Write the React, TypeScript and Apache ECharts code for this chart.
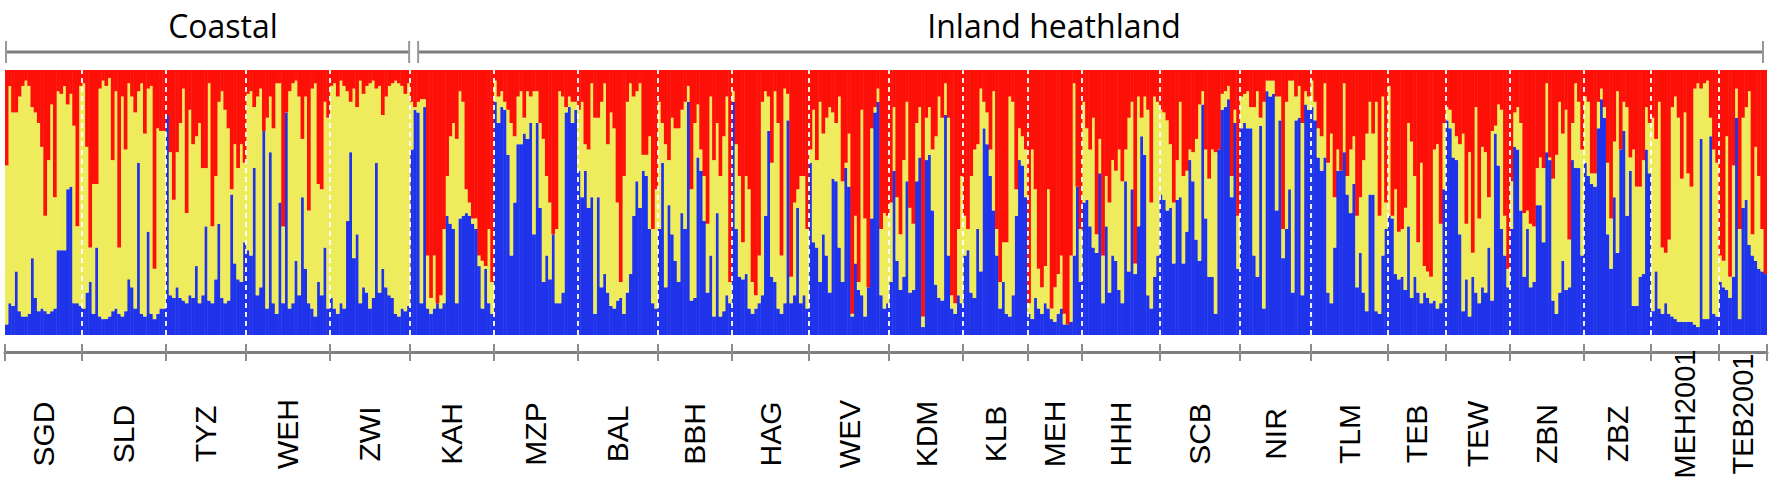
import React, { useEffect, useRef } from 'react';
import * as echarts from 'echarts';

// Population labels (left to right)
const POP_NAMES = ['SGD', 'SLD', 'TYZ', 'WEH', 'ZWI', 'KAH', 'MZP', 'BAL', 'BBH', 'HAG', 'WEV', 'KDM', 'KLB', 'MEH', 'HHH', 'SCB', 'NIR', 'TLM', 'TEB', 'TEW', 'ZBN', 'ZBZ', 'MEH2001', 'TEB2001'];
const GROUPS = [
  { name: 'Coastal', from: 0, to: 5 },
  { name: 'Inland heathland', from: 5, to: 24 },
];

// Per individual: blue share (%) and upper edge of yellow (blue + yellow, %); red fills the rest
const blueSGD = [4, 12, 11, 24, 9, 7, 7, 8, 29, 14, 9, 10, 9, 8, 9, 10, 32, 32, 32, 55, 56, 12, 12, 11];
const topSGD = [64, 94, 84, 84, 90, 94, 96, 94, 86, 84, 80, 71, 45, 66, 87, 52, 92, 91, 94, 87, 91, 79, 41, 94];
const blueSLD = [10, 16, 20, 8, 33, 7, 6, 6, 7, 9, 10, 8, 7, 9, 21, 18, 10, 65, 8, 7, 39, 8, 6, 8, 10, 10];
const topSLD = [95, 71, 33, 57, 57, 93, 96, 94, 97, 66, 92, 33, 90, 70, 95, 90, 84, 92, 95, 76, 93, 94, 25, 78, 77, 77];
const blueTYZ = [83, 15, 14, 18, 14, 13, 12, 15, 14, 26, 12, 15, 41, 13, 12, 21, 42, 14, 12, 13, 53, 27, 21, 20, 35];
const topTYZ = [83, 69, 51, 69, 80, 93, 46, 85, 72, 75, 80, 63, 63, 95, 41, 60, 88, 92, 85, 78, 55, 72, 63, 72, 65];
const blueWEH = [32, 30, 63, 15, 18, 77, 10, 69, 12, 8, 50, 12, 84, 10, 12, 28, 15, 52, 25, 12, 10, 7, 20, 15, 33, 10];
const topWEH = [91, 92, 86, 90, 93, 77, 82, 90, 78, 95, 95, 41, 84, 92, 95, 96, 90, 74, 90, 47, 93, 95, 57, 55, 88, 82];
const blueZWI = [14, 10, 8, 12, 10, 43, 69, 29, 38, 12, 18, 16, 10, 14, 65, 16, 25, 18, 15, 14, 8, 7, 10, 9, 11];
const topZWI = [94, 95, 90, 96, 94, 92, 88, 93, 86, 96, 91, 94, 95, 96, 93, 94, 83, 90, 94, 95, 96, 95, 94, 91, 95];
const blueKAH = [70, 85, 84, 12, 86, 10, 8, 10, 12, 10, 12, 45, 42, 40, 12, 44, 45, 46, 45, 42, 40, 26, 10, 25, 12, 8];
const topKAH = [88, 86, 88, 89, 89, 30, 14, 30, 12, 15, 40, 60, 75, 80, 74, 92, 88, 55, 50, 44, 44, 30, 28, 26, 40, 20];
const blueMZP = [88, 80, 86, 85, 68, 30, 50, 72, 72, 76, 74, 80, 38, 80, 48, 20, 30, 21, 38, 12, 12, 16, 84, 86, 80, 85];
const topMZP = [96, 90, 92, 88, 85, 80, 75, 90, 92, 82, 92, 90, 92, 92, 80, 74, 60, 50, 28, 40, 92, 90, 86, 90, 88, 88];
const blueBAL = [62, 52, 62, 48, 52, 8, 52, 18, 23, 16, 11, 10, 13, 14, 8, 16, 23, 45, 58, 48, 62, 60, 40, 12, 10];
const topBAL = [85, 88, 72, 70, 95, 82, 82, 88, 95, 72, 84, 78, 50, 20, 60, 88, 95, 90, 92, 95, 68, 68, 75, 40, 55];
const blueBBH = [40, 65, 18, 49, 38, 28, 20, 46, 40, 88, 13, 14, 67, 62, 43, 16, 30, 7, 46, 7, 9, 15, 12];
const topBBH = [88, 80, 72, 66, 82, 78, 78, 85, 88, 94, 55, 80, 87, 70, 60, 42, 90, 66, 80, 60, 75, 90, 20];
const blueHAG = [88, 40, 22, 21, 23, 10, 8, 10, 12, 15, 45, 77, 22, 20, 10, 8, 12, 81, 12, 15, 48, 12, 15, 10];
const topHAG = [92, 72, 60, 35, 60, 55, 20, 15, 30, 88, 92, 90, 65, 92, 80, 30, 93, 91, 22, 50, 55, 60, 60, 40];
const blueWEV = [65, 35, 33, 20, 38, 30, 16, 59, 58, 33, 20, 63, 56, 7, 27, 17, 15, 7, 18, 44, 84, 88, 15, 10, 12];
const topWEV = [70, 85, 66, 88, 76, 82, 86, 84, 80, 90, 58, 65, 76, 8, 45, 20, 85, 44, 18, 78, 86, 93, 40, 46, 45];
const blueKDM = [20, 62, 28, 17, 22, 58, 16, 17, 58, 67, 3, 66, 68, 47, 19, 14, 13, 83, 30, 10, 8, 15, 12];
const topKDM = [50, 86, 52, 38, 66, 88, 48, 42, 80, 86, 7, 82, 86, 70, 75, 90, 82, 95, 82, 15, 12, 40, 60];
const blueKLB = [30, 32, 16, 14, 40, 24, 78, 72, 60, 47, 30, 10, 20, 8, 7, 15, 45, 66, 64, 52];
const topKLB = [45, 40, 60, 70, 72, 93, 88, 84, 70, 92, 40, 20, 35, 35, 90, 88, 55, 78, 75, 70];
const blueMEH = [8, 6, 14, 10, 8, 12, 10, 6, 5, 8, 10, 4, 4, 5, 30, 56, 20];
const topMEH = [12, 70, 55, 25, 18, 26, 55, 10, 18, 23, 30, 8, 4, 30, 95, 56, 40];
const blueHHH = [50, 51, 41, 33, 31, 61, 12, 41, 16, 30, 28, 17, 12, 58, 24, 55, 23, 41, 75, 68, 15, 10, 22, 30];
const topHHH = [88, 78, 70, 82, 38, 74, 30, 60, 50, 66, 62, 70, 58, 70, 82, 88, 27, 90, 82, 90, 85, 50, 90, 88];
const blueSCB = [53, 51, 47, 48, 27, 51, 52, 27, 39, 66, 58, 36, 28, 87, 44, 22, 22, 8, 70, 85, 86, 89, 52, 80, 25];
const topSCB = [85, 84, 81, 72, 50, 66, 88, 60, 62, 70, 69, 74, 87, 92, 70, 59, 70, 69, 68, 91, 92, 94, 60, 85, 45];
const blueNIR = [78, 80, 78, 78, 30, 22, 79, 10, 92, 90, 91, 47, 81, 29, 40, 55, 16, 81, 82, 15, 87, 85];
const topNIR = [90, 91, 92, 86, 86, 92, 82, 88, 96, 96, 96, 90, 90, 40, 88, 96, 96, 90, 94, 80, 92, 90];
const blueTLM = [86, 81, 67, 62, 67, 16, 12, 33, 62, 62, 69, 53, 46, 57, 18, 31, 16, 9, 53, 53, 9, 8, 30, 40];
const topTLM = [96, 88, 78, 75, 95, 65, 76, 52, 70, 62, 95, 60, 70, 75, 45, 52, 66, 76, 88, 76, 88, 45, 90, 50];
const blueTEB = [45, 44, 23, 21, 22, 17, 41, 14, 22, 16, 12, 16, 14, 12, 13, 10, 12, 55];
const topTEB = [94, 45, 55, 39, 40, 48, 80, 73, 60, 35, 65, 26, 24, 22, 70, 72, 42, 80];
const blueTEW = [81, 78, 67, 66, 38, 9, 21, 7, 22, 16, 12, 18, 16, 33, 13, 76, 64, 40, 30, 18];
const topTEW = [86, 85, 80, 75, 72, 76, 42, 69, 31, 86, 44, 71, 69, 52, 77, 79, 87, 85, 45, 25];
const blueZBN = [40, 71, 70, 47, 22, 40, 18, 20, 49, 49, 35, 69, 66, 13, 8, 16, 28, 17, 18, 66, 63, 63, 30];
const topZBN = [58, 84, 86, 80, 46, 47, 42, 41, 63, 67, 63, 95, 67, 59, 68, 88, 76, 85, 36, 80, 95, 88, 70];
const blueZBZ = [65, 60, 57, 56, 78, 89, 82, 38, 25, 52, 31, 70, 77, 45, 62, 11, 11, 22, 23, 70, 61];
const topZBZ = [90, 88, 61, 61, 88, 93, 86, 65, 44, 73, 92, 66, 88, 86, 67, 70, 56, 56, 66, 86, 80];
const blueMEH2001 = [9, 24, 10, 8, 12, 8, 7, 6, 5, 5, 5, 5, 5, 4, 3, 74, 6, 6, 75, 8, 7];
const topMEH2001 = [82, 74, 88, 33, 31, 36, 86, 90, 82, 59, 84, 61, 56, 93, 95, 93, 95, 96, 82, 70, 65];
const blueTEB2001 = [20, 18, 17, 14, 22, 82, 6, 48, 51, 34, 30, 28, 25, 24, 23];
const topTEB2001 = [30, 28, 75, 22, 64, 93, 40, 82, 86, 92, 38, 71, 60, 40, 23];

const BLUE_ROWS = [blueSGD, blueSLD, blueTYZ, blueWEH, blueZWI, blueKAH, blueMZP, blueBAL, blueBBH, blueHAG, blueWEV, blueKDM, blueKLB, blueMEH, blueHHH, blueSCB, blueNIR, blueTLM, blueTEB, blueTEW, blueZBN, blueZBZ, blueMEH2001, blueTEB2001];
const TOP_ROWS = [topSGD, topSLD, topTYZ, topWEH, topZWI, topKAH, topMZP, topBAL, topBBH, topHAG, topWEV, topKDM, topKLB, topMEH, topHHH, topSCB, topNIR, topTLM, topTEB, topTEW, topZBN, topZBZ, topMEH2001, topTEB2001];

const C_BLUE = '#1F34EA';
const C_YELLOW = '#EEEC5C';
const C_RED = '#FC1008';
const C_GRAY = '#7E7E7E';

export default function App() {
  const ref = useRef<HTMLDivElement>(null);

  useEffect(() => {
    const chart = echarts.init(ref.current!, null, { renderer: 'svg' });

    const blue: number[] = [];
    const yellow: number[] = [];
    const red: number[] = [];
    const bounds: number[] = [0];
    BLUE_ROWS.forEach((row, p) => {
      row.forEach((b, i) => {
        const t = Math.max(TOP_ROWS[p][i], b);
        blue.push(b);
        yellow.push(t - b);
        red.push(100 - t);
      });
      bounds.push(bounds[bounds.length - 1] + row.length);
    });
    const N = blue.length;
    const centers = POP_NAMES.map((_, p) => (bounds[p] + bounds[p + 1]) / 2);
    const cats = blue.map((_, i) => String(i));

    const labelFor = (v: number) => {
      const k = centers.findIndex((c) => Math.abs(c - v) < 0.01);
      if (k < 0) return '';
      const name = POP_NAMES[k];
      // long labels are lifted so they stay inside the picture
      return name.length > 4 ? `{l|${name}}` : `{s|${name}}`;
    };

    const labelFont = '"Liberation Sans", Arial, sans-serif';

    const barCommon = {
      type: 'bar',
      stack: 'q',
      xAxisIndex: 0,
      yAxisIndex: 0,
      barWidth: 3.7,
      barCategoryGap: '0%',
      silent: true,
    };

    chart.setOption({
      animation: false,
      grid: { left: 5, top: 70, width: 1762, height: 265, outerBoundsMode: 'none', containLabel: false },
      xAxis: [
        { type: 'category', data: cats, show: false, boundaryGap: true },
        {
          type: 'value', min: 0, max: N, position: 'bottom', offset: 17,
          axisLine: { show: true, lineStyle: { color: C_GRAY, width: 3 } },
          axisTick: { show: true, inside: false, length: 9, customValues: bounds, lineStyle: { color: '#8c8c8c', width: 2 } },
          axisLabel: {
            show: true, customValues: centers, rotate: 90, align: 'center', verticalAlign: 'middle',
            margin: 82, formatter: (v: number) => labelFor(v),
            fontFamily: labelFont, fontSize: 30, color: '#000',
            rich: {
              s: { fontFamily: labelFont, fontSize: 30, color: '#000' },
              l: { fontFamily: labelFont, fontSize: 29, color: '#000', padding: [0, 0, 0, 40] },
            },
          },
          splitLine: { show: false },
        },
        {
          type: 'value', min: 0, max: N, position: 'bottom', offset: 17,
          axisLine: { show: false },
          axisTick: { show: true, inside: true, length: 8, customValues: bounds, lineStyle: { color: '#8c8c8c', width: 2 } },
          axisLabel: { show: false },
          splitLine: { show: false },
        },
      ],
      yAxis: [{ type: 'value', min: 0, max: 100, show: false }],
      series: [
        { ...barCommon, name: 'blue', data: blue, itemStyle: { color: C_BLUE } },
        { ...barCommon, name: 'yellow', data: yellow, itemStyle: { color: C_YELLOW } },
        { ...barCommon, name: 'red', data: red, itemStyle: { color: C_RED } },
        {
          type: 'scatter', xAxisIndex: 1, yAxisIndex: 0, data: [[0, 0]], symbolSize: 0, silent: true, z: 10,
          markLine: {
            silent: true, symbol: ['none', 'none'], label: { show: false },
            lineStyle: { color: 'rgba(255,255,255,0.92)', width: 2, type: [5, 4] },
            data: bounds.slice(1, -1).map((b) => ({ xAxis: b })),
          },
        },
      ],
    });

    const px = (v: number) => chart.convertToPixel({ xAxisIndex: 1 }, v) as number;
    const yLine = 52;
    const graphic: any[] = [];
    const textX = [223, 1054];
    GROUPS.forEach((g, gi) => {
      const x1 = px(bounds[g.from]) + (gi === 0 ? 1 : 8);
      const x2 = px(bounds[g.to]) - (gi === 0 ? 1 : 4);
      graphic.push({ type: 'line', shape: { x1, y1: yLine, x2, y2: yLine }, style: { stroke: C_GRAY, lineWidth: 3 } });
      graphic.push({ type: 'line', shape: { x1, y1: 41, x2: x1, y2: 63 }, style: { stroke: '#999', lineWidth: 2 } });
      graphic.push({ type: 'line', shape: { x1: x2, y1: 41, x2, y2: 63 }, style: { stroke: '#999', lineWidth: 2 } });
      graphic.push({
        type: 'text', x: textX[gi], y: 25,
        style: { text: g.name, fill: '#000', fontSize: 32, fontFamily: '"Open Sans", sans-serif', align: 'center', verticalAlign: 'middle', textAlign: 'center', textVerticalAlign: 'middle' },
      });
    });
    chart.setOption({ graphic });

    return () => chart.dispose();
  }, []);

  return <div ref={ref} style={{ position: 'absolute', left: 0, top: 0, width: 1770, height: 485 }} />;
}
